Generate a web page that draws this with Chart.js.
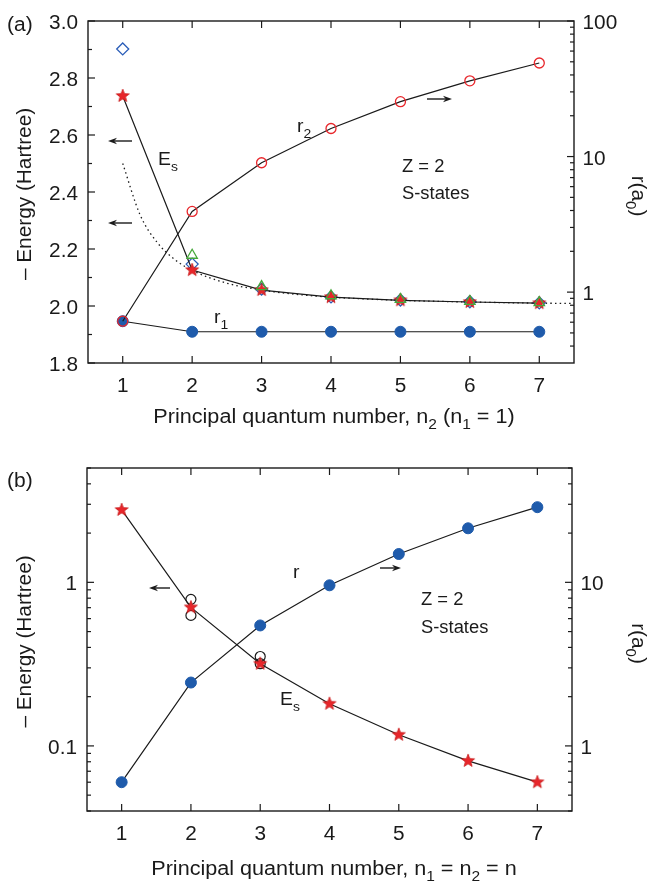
<!DOCTYPE html>
<html>
<head>
<meta charset="utf-8">
<script src="https://cdn.jsdelivr.net/npm/chart.js@4.4.0/dist/chart.umd.min.js"></script>
<style>
  html, body { margin: 0; padding: 0; background: #fff; }
  #wrap { position: relative; width: 650px; height: 881px; }
  canvas { position: absolute; left: 0; }
</style>
</head>
<body>
<div id="wrap">
  <canvas id="chartA" width="650" height="440" style="top:0"></canvas>
  <canvas id="chartB" width="650" height="441" style="top:440px"></canvas>
</div>
<script>
// ---- panel (a): n2 varies, n1 = 1 ----
const nA = [1, 2, 3, 4, 5, 6, 7];
const esA = [2.737, 2.126, 2.056, 2.031, 2.020, 2.014, 2.010];        // red stars
const diamondA = [2.902, 2.147, 2.059, 2.032, 2.021, 2.015, 2.011];   // blue diamonds
const triangleA = [null, 2.178, 2.068, 2.036, 2.023, 2.016, 2.012];   // green triangles
const r1A = [0.61, 0.51, 0.51, 0.51, 0.51, 0.51, 0.51];
const r2A = [0.61, 3.94, 9.0, 16.1, 25.4, 36.2, 49.0];
const dotNA = [1, 1.25, 1.5, 1.75, 2, 2.5, 3, 3.5, 4, 5, 6, 7, 7.5];
const dotEA = [2.50, 2.32, 2.222, 2.163, 2.125, 2.08, 2.056, 2.041, 2.031, 2.020, 2.014, 2.010, 2.009];
const eTicksA = [1.8, 1.9, 2.0, 2.1, 2.2, 2.3, 2.4, 2.5, 2.6, 2.7, 2.8, 2.9, 3.0];
const eLabelsA = ['1.8', '2.0', '2.2', '2.4', '2.6', '2.8', '3.0'];
const rTicksA = [0.4, 0.5, 0.6, 0.7, 0.8, 0.9, 1, 2, 3, 4, 5, 6, 7, 8, 9, 10, 20, 30, 40, 50, 60, 70, 80, 90, 100];
const rLabelsA = ['1', '10', '100'];

// ---- panel (b): n1 = n2 = n ----
const nB = [1, 2, 3, 4, 5, 6, 7];
const esB = [2.77, 0.703, 0.318, 0.181, 0.117, 0.081, 0.060];
const openNB = [2, 2, 3, 3];
const openEB = [0.787, 0.628, 0.352, 0.318];
const rB = [0.60, 2.44, 5.45, 9.59, 14.9, 21.4, 28.8];
const eTicksB = [0.04, 0.05, 0.06, 0.07, 0.08, 0.09, 0.1, 0.2, 0.3, 0.4, 0.5, 0.6, 0.7, 0.8, 0.9, 1, 2, 3, 4, 5];
const eLabelsB = ['0.1', '1'];
const rTicksB = [0.4, 0.5, 0.6, 0.7, 0.8, 0.9, 1, 2, 3, 4, 5, 6, 7, 8, 9, 10, 20, 30, 40, 50];
const rLabelsB = ['1', '10'];

const FONT = '"Liberation Sans", Arial, Helvetica, sans-serif';
const INK = '#1a1a1a';
const RED = '#e8262b';
const BLUE = '#1f5bab';
const GREEN = '#46a83a';

function pts(xs, ys) {
  return xs.map((x, i) => ({ x: x, y: ys[i] }));
}

// filled five point star used as point style
function starImage(r, color) {
  const c = document.createElement('canvas');
  const s = Math.ceil(r * 2 + 2);
  c.width = s; c.height = s;
  const g = c.getContext('2d');
  g.translate(s / 2, s / 2);
  g.beginPath();
  for (let i = 0; i < 10; i++) {
    const rad = i % 2 === 0 ? r : r * 0.42;
    const a = -Math.PI / 2 + i * Math.PI / 5;
    g.lineTo(rad * Math.cos(a), rad * Math.sin(a));
  }
  g.closePath();
  g.fillStyle = color;
  g.fill();
  g.lineWidth = 0.8;
  g.strokeStyle = '#c81818';
  g.stroke();
  return c;
}
const STAR = starImage(6.8, RED);

function drawRich(ctx, parts, x, y, size, align, sx, rot) {
  const sub = size * 0.72, drop = size * 0.3;
  ctx.save();
  ctx.translate(x, y);
  if (rot) ctx.rotate(rot);
  ctx.scale(sx || 1, 1);
  ctx.textBaseline = 'alphabetic';
  ctx.textAlign = 'left';
  const ws = parts.map(p => {
    ctx.font = (p[1] ? sub : size) + 'px ' + FONT;
    return ctx.measureText(p[0]).width;
  });
  const w = ws.reduce((a, b) => a + b, 0);
  let cx = align === 'center' ? -w / 2 : (align === 'right' ? -w : 0);
  parts.forEach((p, i) => {
    ctx.font = (p[1] ? sub : size) + 'px ' + FONT;
    ctx.fillText(p[0], cx, p[1] ? drop : 0);
    cx += ws[i];
  });
  ctx.restore();
}

function arrow(ctx, x1, y1, x2, y2) {
  const ang = Math.atan2(y2 - y1, x2 - x1);
  const hl = 9, hw = 3.2;
  ctx.beginPath();
  ctx.moveTo(x1, y1);
  ctx.lineTo(x2 - hl * 0.7 * Math.cos(ang), y2 - hl * 0.7 * Math.sin(ang));
  ctx.lineWidth = 1.4;
  ctx.stroke();
  ctx.beginPath();
  ctx.moveTo(x2, y2);
  ctx.lineTo(x2 - hl * Math.cos(ang) + hw * Math.sin(ang), y2 - hl * Math.sin(ang) - hw * Math.cos(ang));
  ctx.lineTo(x2 - hl * 0.7 * Math.cos(ang), y2 - hl * 0.7 * Math.sin(ang));
  ctx.lineTo(x2 - hl * Math.cos(ang) - hw * Math.sin(ang), y2 - hl * Math.sin(ang) + hw * Math.cos(ang));
  ctx.closePath();
  ctx.fill();
}

// frame, inward ticks, tick labels, titles and notes
const decor = {
  id: 'decor',
  afterDraw(chart, args, o) {
    const ctx = chart.ctx, a = chart.chartArea;
    const xs = chart.scales.x, yl = chart.scales.yL, yr = chart.scales.yR;
    ctx.save();
    ctx.strokeStyle = INK;
    ctx.fillStyle = INK;
    ctx.lineWidth = 1.4;
    ctx.strokeRect(a.left, a.top, a.right - a.left, a.bottom - a.top);
    ctx.lineWidth = 1.2;
    const seg = (x1, y1, x2, y2) => { ctx.beginPath(); ctx.moveTo(x1, y1); ctx.lineTo(x2, y2); ctx.stroke(); };
    xs.ticks.forEach(t => {
      const px = xs.getPixelForValue(t.value);
      seg(px, a.bottom, px, a.bottom - 7);
      seg(px, a.top, px, a.top + 7);
      drawRich(ctx, [[String(t.value)]], px, a.bottom + 28.5, 20, 'center', 1.04);
    });
    yl.ticks.forEach(t => {
      const py = yl.getPixelForValue(t.value);
      const lab = o.leftLabels.find(l => Math.abs(parseFloat(l) - t.value) < 1e-9);
      seg(a.left, py, a.left + (lab ? 7 : 4), py);
      if (lab) drawRich(ctx, [[lab]], a.left - 10, py + 8, 20, 'right', 1.04);
    });
    yr.ticks.forEach(t => {
      const py = yr.getPixelForValue(t.value);
      const lab = o.rightLabels.find(l => Math.abs(parseFloat(l) - t.value) < 1e-9);
      seg(a.right, py, a.right - (lab ? 7 : 4), py);
      if (lab) drawRich(ctx, [[lab]], a.right + 8.5, py + 8, 20, 'left', 1.04);
    });
    drawRich(ctx, o.xTitle, 334, o.xTitleY, 20, 'center', 1.08);
    const cy = (a.top + a.bottom) / 2;
    drawRich(ctx, [['\u2013 Energy (Hartree)']], 31, cy + 2, 20, 'center', 1.04, -Math.PI / 2);
    drawRich(ctx, [['r(a'], ['0', 1], [')']], 632, cy + 4, 20, 'center', 1.04, Math.PI / 2);
    o.notes.forEach(n => drawRich(ctx, n.parts, n.x, n.y, n.size, 'left', n.sx || 1.02));
    o.arrows.forEach(r => arrow(ctx, r[0], r[1], r[2], r[3]));
    ctx.restore();
  }
};

function fixedTicks(vals) {
  return scale => { scale.ticks = vals.map(v => ({ value: v })); };
}

function axes(xTicks, lMin, lMax, lType, lTicks, rMin, rMax, rTicks, sizes) {
  const hidden = { grid: { display: false }, border: { display: false }, ticks: { display: false } };
  return {
    x: Object.assign({ type: 'linear', min: 0.5, max: 7.5, afterBuildTicks: fixedTicks(xTicks),
      afterFit: s => { s.height = sizes.bottom; } }, hidden),
    yL: Object.assign({ type: lType, position: 'left', min: lMin, max: lMax, afterBuildTicks: fixedTicks(lTicks),
      afterFit: s => { s.width = sizes.left; } }, hidden),
    yR: Object.assign({ type: 'logarithmic', position: 'right', min: rMin, max: rMax, afterBuildTicks: fixedTicks(rTicks),
      afterFit: s => { s.width = sizes.right; } }, hidden)
  };
}

const lineOpts = { showLine: true, borderColor: INK, borderWidth: 1.2, tension: 0 };

new Chart(document.getElementById('chartA'), {
  type: 'scatter',
  data: {
    datasets: [
      Object.assign({ label: 'r1', data: pts(nA, r1A), yAxisID: 'yR', order: 6,
        pointStyle: 'circle', pointRadius: 5.5, pointBackgroundColor: BLUE, pointBorderColor: BLUE, pointBorderWidth: 1 }, lineOpts),
      Object.assign({ label: 'r2', data: pts(nA, r2A), yAxisID: 'yR', order: 5,
        pointStyle: 'circle', pointRadius: 5, pointBackgroundColor: 'rgba(0,0,0,0)', pointBorderColor: RED, pointBorderWidth: 1.3 }, lineOpts),
      { label: 'fit', data: pts(dotNA, dotEA), yAxisID: 'yL', order: 4, showLine: true, borderColor: INK, borderWidth: 1.3,
        borderDash: [1.5, 3.2], pointRadius: 0, tension: 0.4, cubicInterpolationMode: 'monotone' },
      { label: 'diamond', data: pts(nA, diamondA), yAxisID: 'yL', order: 3, showLine: false,
        pointStyle: 'rectRot', pointRadius: 6, pointBackgroundColor: 'rgba(0,0,0,0)', pointBorderColor: '#2a5db8', pointBorderWidth: 1.3 },
      Object.assign({ label: 'Es', data: pts(nA, esA), yAxisID: 'yL', order: 2,
        pointStyle: STAR, pointRadius: 7 }, lineOpts),
      { label: 'triangle', data: pts(nA, triangleA), yAxisID: 'yL', order: 1, showLine: false,
        pointStyle: 'triangle', pointRadius: 6, pointBackgroundColor: 'rgba(0,0,0,0)', pointBorderColor: GREEN, pointBorderWidth: 1.3 }
    ]
  },
  options: {
    responsive: false,
    animation: false,
    events: [],
    layout: { padding: { top: 21, left: 0, right: 0, bottom: 0 } },
    scales: axes(nA, 1.8, 3.0, 'linear', eTicksA, 0.305, 100, rTicksA, { bottom: 77, left: 88, right: 76 }),
    plugins: {
      legend: { display: false },
      tooltip: { enabled: false },
      decor: {
        leftLabels: eLabelsA,
        rightLabels: rLabelsA,
        xTitle: [['Principal quantum number, n'], ['2', 1], [' (n'], ['1', 1], [' = 1)']],
        xTitleY: 423,
        notes: [
          { parts: [['(a)']], x: 7, y: 31, size: 20, sx: 1.05 },
          { parts: [['E'], ['s', 1]], x: 158, y: 165, size: 19 },
          { parts: [['r'], ['2', 1]], x: 297, y: 132, size: 19 },
          { parts: [['r'], ['1', 1]], x: 214, y: 323, size: 19 },
          { parts: [['Z = 2']], x: 402, y: 172, size: 18 },
          { parts: [['S-states']], x: 402, y: 199, size: 18 }
        ],
        arrows: [[132, 141, 108, 141], [132, 223, 108, 223], [427, 99, 452, 99]]
      }
    }
  },
  plugins: [decor]
});

new Chart(document.getElementById('chartB'), {
  type: 'scatter',
  data: {
    datasets: [
      Object.assign({ label: 'r', data: pts(nB, rB), yAxisID: 'yR', order: 4,
        pointStyle: 'circle', pointRadius: 5.5, pointBackgroundColor: BLUE, pointBorderColor: BLUE, pointBorderWidth: 1 }, lineOpts),
      { label: 'open', data: pts(openNB, openEB), yAxisID: 'yL', order: 3, showLine: false,
        pointStyle: 'circle', pointRadius: 5, pointBackgroundColor: 'rgba(0,0,0,0)', pointBorderColor: INK, pointBorderWidth: 1.2 },
      Object.assign({ label: 'Es', data: pts(nB, esB), yAxisID: 'yL', order: 2,
        pointStyle: STAR, pointRadius: 7 }, lineOpts)
    ]
  },
  options: {
    responsive: false,
    animation: false,
    events: [],
    layout: { padding: { top: 28, left: 0, right: 0, bottom: 0 } },
    scales: axes(nB, 0.04, 5, 'logarithmic', eTicksB, 0.4, 50, rTicksB, { bottom: 70, left: 87, right: 78 }),
    plugins: {
      legend: { display: false },
      tooltip: { enabled: false },
      decor: {
        leftLabels: eLabelsB,
        rightLabels: rLabelsB,
        xTitle: [['Principal quantum number, n'], ['1', 1], [' = n'], ['2', 1], [' = n']],
        xTitleY: 435,
        notes: [
          { parts: [['(b)']], x: 7, y: 47, size: 20, sx: 1.05 },
          { parts: [['r']], x: 293, y: 138, size: 19 },
          { parts: [['E'], ['s', 1]], x: 280, y: 265, size: 19 },
          { parts: [['Z = 2']], x: 421, y: 165, size: 18 },
          { parts: [['S-states']], x: 421, y: 193, size: 18 }
        ],
        arrows: [[170, 148, 149, 148], [380, 128, 401, 128]]
      }
    }
  },
  plugins: [decor]
});
</script>
</body>
</html>
